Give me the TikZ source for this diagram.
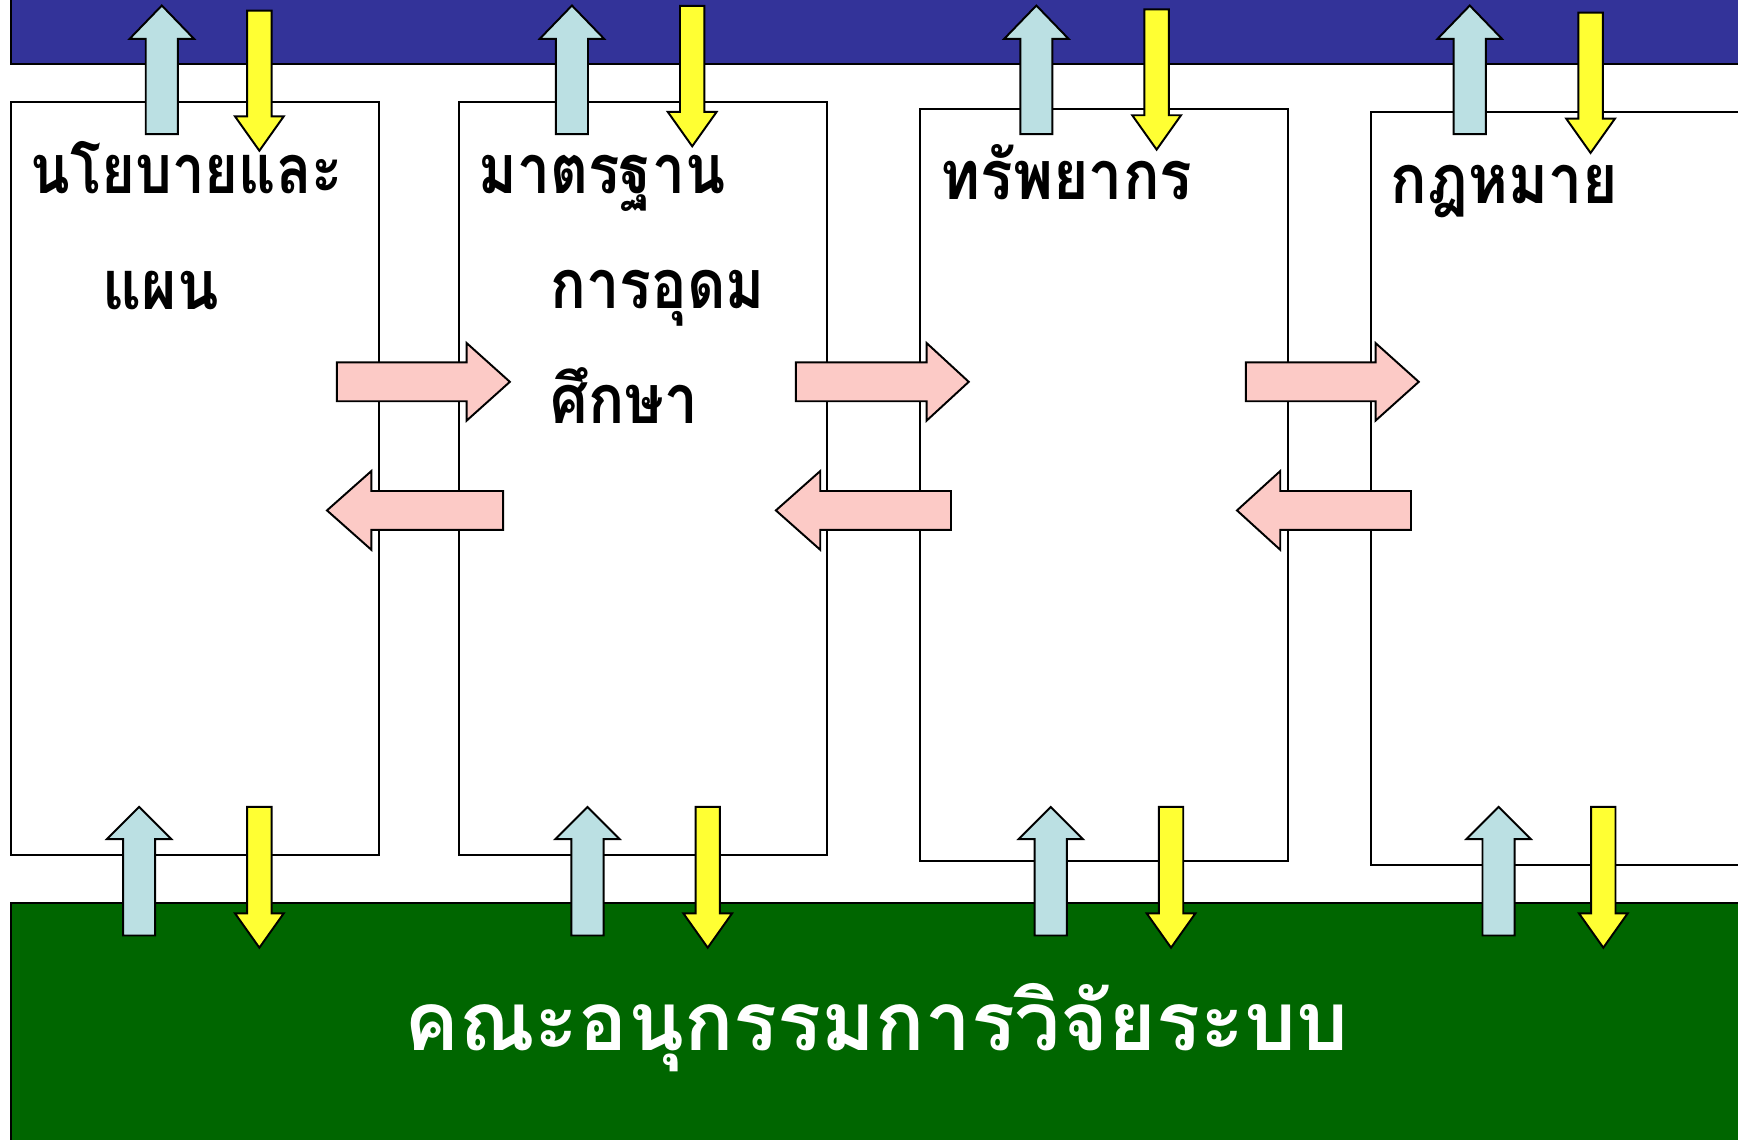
\documentclass[tikz,border=0pt]{standalone}
\usepackage{fontspec}
\newfontfamily\thaifont[Script=Thai]{Loma}
\definecolor{barblue}{HTML}{333399}
\definecolor{bargreen}{HTML}{006600}
\definecolor{upblue}{HTML}{BBE0E3}
\definecolor{downyellow}{HTML}{FFFF33}
\definecolor{sidepink}{HTML}{FCCAC6}
\newcommand\vblock[7]{% cx, tail, tip, base, halfshaft, halfhead, color
  \filldraw[blockline, fill=#7] ({#1-#5},#2) -- ({#1+#5},#2) -- ({#1+#5},#4) -- ({#1+#6},#4) -- (#1,#3) -- ({#1-#6},#4) -- ({#1-#5},#4) -- cycle;}
\newcommand\hblock[7]{% cy, tail, tip, base, halfshaft, halfhead, color
  \filldraw[blockline, fill=#7] (#2,{#1-#5}) -- (#2,{#1+#5}) -- (#4,{#1+#5}) -- (#4,{#1+#6}) -- (#3,#1) -- (#4,{#1-#6}) -- (#4,{#1-#5}) -- cycle;}
\newcommand\narrowtxt[2]{\scalebox{#1}[1]{#2}}
\begin{document}
\begin{tikzpicture}[x=0.01cm,y=-0.01cm,
  blockline/.style={draw=black, line width=0.5pt, line join=miter},
  panel/.style={draw=black, line width=0.5pt, fill=white, anchor=north west, inner sep=0pt, outer sep=0pt},
  lbl/.style={anchor=base west, inner sep=0pt, font=\thaifont\bfseries\fontsize{17.5}{20}\selectfont},
  bigl/.style={anchor=base west, inner sep=0pt, text=white, font=\thaifont\bfseries\fontsize{21}{24}\selectfont}]
\useasboundingbox (0,0) rectangle (1568,1028);
\clip (0,0) rectangle (1568,1028);
% bars
\filldraw[fill=barblue, draw=black, line width=0.5pt] (10,-20) rectangle (1600,58);
\filldraw[fill=bargreen, draw=black, line width=0.5pt] (10,815) rectangle (1600,1060);
% panels
\node[panel, minimum width=3.32cm, minimum height=6.79cm] (b1) at (10,92) {};
\node[panel, minimum width=3.32cm, minimum height=6.79cm] (b2) at (414,92) {};
\node[panel, minimum width=3.32cm, minimum height=6.78cm] (b3) at (830,98) {};
\node[panel, minimum width=4.00cm, minimum height=6.79cm] (b4) at (1237,101) {};
% top arrows
\vblock{146}{121}{5}{35}{14.5}{29}{upblue}
\vblock{234}{9.6}{136}{105}{11}{22}{downyellow}
\vblock{516}{121}{5}{35}{14.5}{29}{upblue}
\vblock{624.5}{5.4}{132}{101}{11}{22}{downyellow}
\vblock{935}{121}{5}{35}{14.5}{29}{upblue}
\vblock{1043.5}{8.4}{135}{104}{11}{22}{downyellow}
\vblock{1326}{121}{5}{35}{14.5}{29}{upblue}
\vblock{1435}{11.4}{138}{107}{11}{22}{downyellow}
% bottom arrows
\vblock{125.5}{844}{728}{757}{14.5}{29}{upblue}
\vblock{234}{728}{855}{824}{11}{22}{downyellow}
\vblock{530}{844}{728}{757}{14.5}{29}{upblue}
\vblock{638.5}{728}{855}{824}{11}{22}{downyellow}
\vblock{948}{844}{728}{757}{14.5}{29}{upblue}
\vblock{1056.5}{728}{855}{824}{11}{22}{downyellow}
\vblock{1352}{844}{728}{757}{14.5}{29}{upblue}
\vblock{1446.5}{728}{855}{824}{11}{22}{downyellow}
% side arrows
\hblock{344.5}{304}{460}{421}{17.5}{35}{sidepink}
\hblock{344.5}{718}{874}{836}{17.5}{35}{sidepink}
\hblock{344.5}{1124}{1280}{1241}{17.5}{35}{sidepink}
\hblock{460.5}{454}{295}{335}{17.5}{35.5}{sidepink}
\hblock{460.5}{858}{700}{740}{17.5}{35.5}{sidepink}
\hblock{460.5}{1273}{1116}{1155}{17.5}{35.5}{sidepink}
% labels
\node[lbl] (t1a) at (27,175) {\narrowtxt{0.85}{นโยบายและ}};
\node[lbl] (t1b) at (92,279) {\narrowtxt{0.89}{แผน}};
\node[lbl] (t2a) at (431,175) {\narrowtxt{0.86}{มาตรฐาน}};
\node[lbl] (t2b) at (496,278) {\narrowtxt{0.87}{การอุดม}};
\node[lbl] (t2c) at (496,382) {\narrowtxt{0.88}{ศึกษา}};
\node[lbl] (t3) at (848,180) {\narrowtxt{0.89}{ทรัพยากร}};
\node[lbl] (t4) at (1254,184) {\narrowtxt{0.89}{กฎหมาย}};
\node[bigl] (tg) at (364,948) {คณะอนุกรรมการวิจัยระบบ};
\end{tikzpicture}
\end{document}
